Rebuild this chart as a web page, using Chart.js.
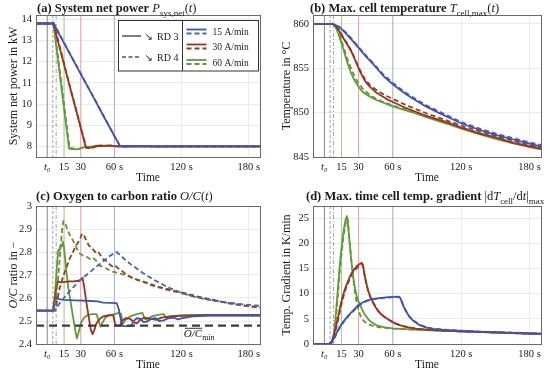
<!DOCTYPE html>
<html><head><meta charset="utf-8">
<script src="https://cdn.jsdelivr.net/npm/chart.js@4.4.1/dist/chart.umd.min.js"></script>
<style>
html,body{margin:0;padding:0;background:#fff;}
#wrap{position:relative;width:550px;height:375px;overflow:hidden;background:#fff;}
canvas{position:absolute;}
</style></head><body>
<div id="wrap">
<canvas id="ca" width="275" height="188" style="left:0;top:0"></canvas>
<canvas id="cb" width="275" height="188" style="left:275px;top:0"></canvas>
<canvas id="cc" width="275" height="187" style="left:0;top:188px"></canvas>
<canvas id="cd" width="275" height="187" style="left:275px;top:188px"></canvas>
</div>
<script>
// ---------------- data ----------------
const xTicks = [0, 15, 30, 60, 120, 180];
const xTickLabels = ['t\u2080', '15', '30', '60 s', '120 s', '180 s'];
const xRange = [-10, 190];
const markerGray = [0, 5, 8];          // t0, RD4 marker, RD3 marker
const rampEnds = [15, 30, 60];          // 60, 30, 15 A/min

// (a) system net power [t, kW]
const pwrBlueSolid = [[-10,13.8],[5.5,13.8],[10,13.36],[20,12.39],[30,11.41],[40,10.44],[50,9.46],[60,8.49],[65,8.0],[70,7.99],[80,8.01],[90,8.0],[100,7.99],[120,8.0],[150,8.0],[190,8.0]];
const pwrBlueDash  = [[-10,13.8],[6,13.8],[20,12.41],[40,10.46],[60,8.5],[65.5,7.98],[72,8.0],[85,8.02],[100,8.0],[130,7.99],[190,7.99]];
const pwrRedSolid  = [[-10,13.8],[5.5,13.8],[15,11.88],[25,9.87],[34.5,7.95],[37,7.92],[40,7.96],[45,8.03],[50,8.02],[55,8.05],[60,8.0],[70,8.01],[90,8.0],[190,8.0]];
const pwrRedDash   = [[-10,13.8],[6,13.8],[20,10.86],[35,7.93],[38,7.9],[42,7.97],[48,8.05],[52,8.0],[57,8.05],[63,8.0],[75,8.02],[100,8.0],[190,8.0]];
const pwrGreenSolid= [[-10,13.8],[5.5,13.8],[12.5,10.85],[19.5,7.9],[22,7.87],[26,7.86],[29,7.89],[32,7.95],[36,7.98],[42,8.0],[50,8.01],[60,8.02],[70,8.0],[190,8.0]];
const pwrGreenDash = [[-10,13.8],[6,13.8],[13,10.85],[20,7.93],[24,7.9],[28,7.87],[31,7.93],[36,7.96],[42,8.02],[48,8.04],[54,7.99],[62,8.03],[75,8.0],[190,8.0]];
const pwrTicks = [8,9,10,11,12,13,14];

// (b) max cell temperature [t, degC]
const tempBlueSolid = [[-10,860],[7,860],[10,859.85],[14,859.55],[19,858.9],[24,858.2],[30,857.3],[36,856.4],[44,855.3],[52,854.1],[60,853.2],[68,852.4],[76,851.7],[89,850.7],[100,850.0],[110,849.4],[120,848.8],[135,848.1],[150,847.5],[165,847.0],[180,846.5],[190,846.2]];
const tempBlueDash  = [[-10,860],[7.5,860],[10,859.88],[14,859.6],[19,859.0],[24,858.3],[30,857.4],[36,856.5],[44,855.4],[52,854.25],[60,853.35],[68,852.55],[76,851.85],[89,850.85],[100,850.15],[110,849.55],[120,848.95],[135,848.25],[150,847.65],[165,847.15],[180,846.65],[190,846.35]];
const tempRedSolid  = [[-10,860],[7,860],[10,859.75],[13,859.2],[16,858.5],[20,857.7],[24,856.8],[27,855.9],[30,855.0],[33,854.2],[36,853.5],[40,852.9],[45,852.3],[50,851.9],[55,851.5],[60,851.2],[70,850.6],[80,850.1],[90,849.6],[100,849.2],[110,848.8],[120,848.3],[135,847.7],[150,847.2],[165,846.6],[180,846.2],[190,845.95]];
const tempRedDash   = [[-10,860],[7.5,860],[10,859.8],[13,859.3],[16,858.6],[20,857.8],[24,856.9],[27,856.0],[30,855.1],[33,854.3],[36,853.7],[40,853.1],[45,852.6],[50,852.2],[55,851.85],[60,851.55],[70,850.95],[80,850.4],[90,849.9],[100,849.45],[110,849.0],[120,848.55],[135,847.95],[150,847.4],[165,846.85],[180,846.35],[190,846.1]];
const tempGreenSolid= [[-10,860],[7,860],[9,859.8],[11,859.3],[13,858.6],[15,857.8],[17,857.0],[19,856.1],[21,855.3],[23,854.6],[25,854.0],[27,853.5],[30,852.9],[33,852.4],[36,852.1],[40,851.8],[45,851.45],[50,851.2],[60,850.7],[70,850.3],[80,849.9],[90,849.45],[100,849.05],[110,848.65],[120,848.2],[135,847.6],[150,847.05],[165,846.55],[180,846.1],[190,845.85]];
const tempGreenDash = [[-10,860],[7.5,860],[10,859.7],[12,859.2],[14,858.5],[16,857.7],[18,856.9],[20,856.1],[22,855.4],[24,854.8],[26,854.2],[28,853.7],[30,853.3],[33,852.8],[36,852.4],[40,852.0],[45,851.6],[50,851.3],[60,850.8],[70,850.4],[80,850.0],[90,849.6],[100,849.2],[110,848.8],[120,848.35],[135,847.75],[150,847.2],[165,846.7],[180,846.25],[190,846.0]];
const tempTicks = [845,850,855,860];

// (c) O/C ratio [t, -]
const ocBlueSolid = [[-10,2.545],[5,2.545],[7,2.58],[8.5,2.605],[10,2.595],[15,2.592],[25,2.59],[35,2.588],[45,2.585],[50,2.58],[62,2.578],[64,2.55],[66,2.5],[67.5,2.478],[75,2.478],[77,2.5],[80,2.512],[83,2.51],[86,2.495],[89,2.497],[93,2.51],[97,2.512],[100,2.5],[104,2.503],[108,2.512],[113,2.515],[117,2.507],[121,2.513],[130,2.52],[150,2.525],[190,2.524]];
const ocBlueDash  = [[-10,2.545],[7,2.545],[8,2.55],[10,2.57],[15,2.6],[20,2.63],[25,2.655],[30,2.68],[35,2.70],[40,2.72],[45,2.74],[50,2.76],[55,2.78],[60,2.795],[62,2.80],[65,2.787],[70,2.765],[75,2.745],[80,2.728],[85,2.71],[90,2.695],[95,2.68],[100,2.667],[105,2.654],[110,2.642],[115,2.632],[120,2.622],[130,2.607],[140,2.596],[150,2.588],[160,2.58],[170,2.575],[180,2.57],[190,2.566]];
const ocRedSolid  = [[-10,2.545],[5,2.545],[6.5,2.58],[8,2.64],[9.5,2.672],[12,2.668],[16,2.67],[20,2.672],[24,2.672],[28,2.675],[30,2.68],[31.5,2.688],[33,2.65],[35,2.58],[37,2.52],[39,2.46],[40.5,2.443],[42,2.46],[44,2.49],[47,2.51],[50,2.52],[55,2.525],[59,2.525],[60.5,2.49],[61.5,2.48],[65,2.48],[66.5,2.5],[70,2.512],[74,2.51],[77,2.495],[80,2.49],[83,2.505],[87,2.515],[92,2.51],[97,2.505],[102,2.515],[110,2.52],[120,2.522],[140,2.525],[190,2.525]];
const ocRedDash   = [[-10,2.545],[7,2.545],[9,2.59],[11,2.64],[14,2.69],[17,2.73],[20,2.77],[23,2.80],[26,2.83],[28,2.845],[30,2.865],[31,2.88],[33,2.87],[35,2.85],[37,2.83],[40,2.815],[43,2.80],[45,2.805],[47,2.79],[50,2.77],[53,2.76],[56,2.745],[59,2.735],[61,2.74],[63,2.73],[66,2.72],[70,2.705],[75,2.69],[80,2.68],[85,2.672],[90,2.665],[95,2.656],[100,2.648],[110,2.635],[120,2.625],[130,2.612],[140,2.60],[150,2.59],[160,2.58],[170,2.572],[180,2.565],[190,2.56]];
const ocGreenSolid= [[-10,2.545],[5,2.545],[7,2.62],[9,2.76],[10,2.81],[11,2.805],[12,2.83],[13,2.825],[14,2.845],[15,2.82],[17,2.72],[19,2.64],[21,2.58],[23,2.52],[25,2.46],[26.5,2.425],[28,2.45],[30,2.49],[33,2.515],[36,2.525],[40,2.53],[44,2.53],[46,2.50],[47.5,2.475],[49,2.49],[52,2.515],[56,2.525],[60,2.53],[64,2.535],[66,2.53],[67,2.50],[68,2.49],[70,2.505],[74,2.52],[80,2.53],[85,2.535],[87,2.51],[89,2.505],[93,2.52],[100,2.528],[104,2.53],[106,2.515],[110,2.52],[120,2.525],[140,2.527],[190,2.525]];
const ocGreenDash = [[-10,2.545],[6,2.545],[8,2.6],[10,2.7],[12,2.82],[13.5,2.91],[14.5,2.935],[16,2.925],[18,2.9],[20,2.875],[22,2.86],[24,2.84],[26,2.82],[28,2.80],[30,2.79],[32,2.785],[35,2.78],[38,2.77],[41,2.775],[44,2.76],[47,2.74],[50,2.735],[54,2.725],[58,2.715],[62,2.71],[66,2.705],[70,2.70],[75,2.69],[80,2.68],[85,2.672],[90,2.66],[95,2.652],[100,2.645],[110,2.632],[120,2.62],[130,2.608],[140,2.597],[150,2.588],[160,2.578],[170,2.57],[180,2.563],[190,2.558]];
const ocMin = 2.48;
const ocTicks = [2.4,2.5,2.6,2.7,2.8,2.9,3.0];

// (d) max time cell temperature gradient [t, K/min]
const gradBlueSolid = [[-10,0],[4.5,0],[6,0.3],[8,1.0],[10,1.9],[12,2.8],[14,3.6],[16.5,4.4],[19,5.1],[22,5.9],[26.6,7.0],[30,7.7],[33,8.2],[37,8.6],[42,8.9],[48,9.1],[54,9.25],[60,9.35],[65,9.4],[66.5,9.2],[68.4,8.0],[71,6.7],[74.3,5.5],[78,4.6],[83,3.8],[89,3.3],[95,3.0],[105,2.8],[120,2.6],[140,2.4],[160,2.25],[180,2.1],[190,2.05]];
const gradBlueDash  = [[-10,0],[5,0],[6.5,0.3],[8.5,1.0],[10.5,1.9],[12.5,2.8],[14.5,3.6],[17,4.4],[19.5,5.1],[22.5,5.9],[27,6.9],[30,7.5],[33,8.05],[37,8.5],[42,8.85],[48,9.05],[54,9.2],[60,9.3],[65.3,9.35],[67,9.1],[69,7.8],[72,6.4],[75,5.3],[78,4.7],[83,3.9],[89,3.35],[95,3.05],[105,2.85],[120,2.65],[140,2.45],[160,2.3],[180,2.15],[190,2.1]];
const gradRedSolid  = [[-10,0],[4,0],[6,0.3],[7,0.8],[8,1.5],[10,3.3],[12,5.3],[14,7.6],[16,9.4],[18,10.9],[20,12.1],[23,13.7],[26,14.8],[29,15.6],[31,15.9],[32.8,16.1],[33.8,15.7],[35,14.0],[36.5,12.3],[38.5,10.5],[41,9.0],[44,7.6],[48,6.3],[53,5.3],[58,4.6],[63,4.0],[68,3.6],[74,3.3],[80,3.05],[90,2.85],[105,2.65],[120,2.5],[140,2.35],[160,2.2],[180,2.05],[190,2.0]];
const gradRedDash   = [[-10,0],[4.5,0],[6.5,0.3],[7.5,0.8],[8.5,1.5],[10.5,3.3],[12.5,5.3],[14.5,7.5],[16.5,9.3],[18.5,10.8],[20.5,12.0],[23.5,13.5],[26.5,14.6],[29.5,15.3],[31.5,15.6],[33.2,15.8],[34.2,15.2],[35.5,13.4],[37,11.8],[39,10.0],[41.5,8.7],[44,7.8],[47,6.6],[52,5.5],[57,4.7],[62,4.1],[68,3.6],[74,3.3],[80,3.05],[90,2.85],[105,2.65],[120,2.5],[140,2.35],[160,2.2],[180,2.05],[190,2.0]];
const gradGreenSolid= [[-10,0],[4,0],[6,0.4],[7,1.0],[8,1.8],[9,3.3],[10,5.8],[11,8.6],[12,11.5],[13,14.4],[14,16.9],[15,19],[16,21],[17,22.7],[18,24],[19,25.1],[19.7,25.4],[20.5,24.2],[22,20.3],[23.5,16.8],[25,13.7],[26.5,11.5],[28,9.8],[30,8.4],[32.6,7.1],[35,6.0],[38.5,4.9],[42,4.2],[46,3.7],[52,3.35],[60,3.1],[70,2.95],[80,2.85],[90,2.75],[105,2.6],[120,2.5],[140,2.35],[160,2.2],[180,2.05],[190,2.0]];
const gradGreenDash = [[-10,0],[4.5,0],[6.5,0.4],[7.5,1.0],[8.5,1.9],[9.5,3.5],[10.5,6],[11.5,8.8],[12.5,11.6],[13.5,14.3],[14.5,16.8],[15.5,18.9],[16.5,20.8],[17.5,22.4],[18.5,23.7],[19.5,24.7],[20.2,25.0],[21,23.5],[22.5,19.5],[24,15.8],[25.5,12.5],[27,10.0],[28.5,8.0],[30,6.6],[32,5.4],[34,4.7],[37,4.1],[41,3.7],[46,3.4],[52,3.2],[60,3.05],[70,2.95],[80,2.85],[90,2.75],[105,2.6],[120,2.5],[140,2.35],[160,2.2],[180,2.05],[190,2.0]];
const gradTicks = [0,5,10,15,20,25];

// ---------------- styling ----------------
const SERIF = '"Liberation Serif","DejaVu Serif",serif';
const C = {
  blue:'#3f52b8', blueD:'#4b5fc8',
  red:'#a3301c', redD:'#8e4220',
  green:'#5c9e3a', greenD:'#748c32'
};
const TXT = '#1a1a1a';
const DASH = [5, 3];

function ds(pairs, color, dashed, w) {
  return {data: pairs.map(p => ({x:p[0], y:p[1]})), borderColor: color,
    borderWidth: w || 1.8, borderDash: dashed ? DASH : [], pointRadius: 0,
    fill: false, tension: 0, borderJoinStyle:'round'};
}

function drawRich(ctx, segs, x, y, o) {
  const base = o.size;
  let w = 0;
  const items = segs.map(s => {
    const size = s.sub ? base * 0.72 : base;
    const font = (s.i ? 'italic ' : '') + (s.b ? 'bold ' : '') + size + 'px ' + (s.fam || SERIF);
    ctx.font = font;
    const mw = ctx.measureText(s.t).width;
    const it = {t: s.t, font, x: w, dy: s.sub ? base * 0.3 : 0, w: mw, over: s.over};
    w += mw;
    return it;
  });
  ctx.save();
  ctx.translate(x, y);
  if (o.rot) ctx.rotate(-Math.PI / 2);
  const x0 = o.align === 'center' ? -w / 2 : 0;
  ctx.fillStyle = o.color || TXT;
  ctx.textBaseline = 'alphabetic';
  ctx.textAlign = 'left';
  for (const it of items) {
    ctx.font = it.font;
    ctx.fillText(it.t, x0 + it.x, it.dy);
    if (it.over) ctx.fillRect(x0 + it.x + 1, -base * 0.8, it.w - 1, 0.9);
  }
  ctx.restore();
}

function vline(ctx, ca, x, color, dash, w) {
  ctx.save();
  ctx.strokeStyle = color; ctx.lineWidth = w || 1; ctx.setLineDash(dash || []);
  ctx.beginPath(); ctx.moveTo(x, ca.top); ctx.lineTo(x, ca.bottom); ctx.stroke();
  ctx.restore();
}

function makeChart(id, p) {
  const ctx = document.getElementById(id).getContext('2d');
  const deco = {
    id: 'deco' + id,
    beforeDatasetsDraw(chart) {
      const c = chart.ctx, ca = chart.chartArea, xs = chart.scales.x;
      vline(c, ca, xs.getPixelForValue(markerGray[0]), '#8a8a8a', [], 1);
      vline(c, ca, xs.getPixelForValue(markerGray[1]), '#a5a5a5', [3,2], 1);
      vline(c, ca, xs.getPixelForValue(markerGray[2]), '#a5a5a5', [4,2,1,2], 1);
      vline(c, ca, xs.getPixelForValue(rampEnds[0]), '#9fd48a', [], 1);
      vline(c, ca, xs.getPixelForValue(rampEnds[1]), '#e6a0a0', [], 1);
      vline(c, ca, xs.getPixelForValue(rampEnds[2]), '#9fafe0', [], 1);
    },
    afterDatasetsDraw(chart) {
      const c = chart.ctx, ca = chart.chartArea;
      c.save();
      c.strokeStyle = '#6a6a6a'; c.lineWidth = 1;
      c.strokeRect(Math.round(ca.left) + 0.5, Math.round(ca.top) + 0.5, Math.round(ca.right - ca.left), Math.round(ca.bottom - ca.top));
      c.restore();
      drawRich(c, p.title, p.titleX, p.titleY, {size: 12.5});
      drawRich(c, p.ylabel, p.ylabelX, (ca.top + ca.bottom) / 2, {size: 12, rot: true, align: 'center'});
      if (p.extra) p.extra(chart);
    }
  };
  return new Chart(ctx, {
    type: 'line',
    data: {datasets: p.datasets},
    options: {
      responsive: false, animation: false, events: [],
      layout: {padding: {left: 0, top: p.padTop, right: p.padRight, bottom: 0}},
      plugins: {legend: {display: false}, tooltip: {enabled: false}},
      scales: {
        x: {type: 'linear', min: xRange[0], max: xRange[1],
          afterBuildTicks: s => { s.ticks = xTicks.map(v => ({value: v})); },
          afterFit: s => { s.height = p.xH; },
          ticks: {autoSkip: false, maxRotation: 0, padding: 4, color: TXT,
            font: c => ({family: SERIF, size: 10.5, style: (c.tick && c.tick.value === 0) ? 'italic' : 'normal'}),
            callback: (v, i) => xTickLabels[i]},
          grid: {color: '#ebebeb', drawTicks: false},
          border: {display: false},
          title: {display: true, text: 'Time', color: TXT, font: {family: SERIF, size: 11.5}, padding: {top: 0, bottom: 3}}
        },
        y: {type: 'linear', min: p.ymin, max: p.ymax,
          afterBuildTicks: s => { s.ticks = p.yTicks.map(v => ({value: v})); },
          afterFit: s => { s.width = p.yW; },
          ticks: {padding: 4, color: TXT, font: {family: SERIF, size: 10.5},
            callback: v => String(+v.toFixed(2))},
          grid: {color: '#ebebeb', drawTicks: false},
          border: {display: false}
        }
      }
    },
    plugins: [deco]
  });
}

// (a)
makeChart('ca', {
  padTop: 15, padRight: 15, xH: 31, yW: 36, ymin: 7.5, ymax: 14.2, yTicks: pwrTicks,
  titleX: 37, titleY: 12, ylabelX: 17,
  title: [{t:'(a) System net power ', b:1}, {t:'P', i:1}, {t:'sys,net', sub:1}, {t:'('}, {t:'t', i:1}, {t:')'}],
  ylabel: [{t:'System net power in kW'}],
  datasets: [ds(pwrBlueSolid, C.blue), ds(pwrRedSolid, C.red), ds(pwrGreenSolid, C.green),
             ds(pwrBlueDash, C.blueD, true), ds(pwrRedDash, C.redD, true), ds(pwrGreenDash, C.greenD, true)],
  extra(chart) {
    const c = chart.ctx;
    c.save();
    c.fillStyle = '#fff'; c.fillRect(118.5, 20.5, 140, 50.5);
    c.strokeStyle = '#333'; c.lineWidth = 1; c.strokeRect(118.5, 20.5, 140, 50.5);
    c.beginPath(); c.moveTo(182.5, 20.5); c.lineTo(182.5, 71); c.stroke();
    c.strokeStyle = '#555'; c.lineWidth = 1.5;
    c.beginPath(); c.moveTo(122, 36); c.lineTo(141, 36); c.stroke();
    c.setLineDash([4,2.5]); c.beginPath(); c.moveTo(122, 57); c.lineTo(141, 57); c.stroke();
    c.restore();
    drawRich(c, [{t:'\u2198', fam:'"DejaVu Sans"'}], 144.5, 40, {size: 10});
    drawRich(c, [{t:'RD 3'}], 157, 39.5, {size: 10});
    drawRich(c, [{t:'\u2198', fam:'"DejaVu Sans"'}], 144.5, 61, {size: 10});
    drawRich(c, [{t:'RD 4'}], 157, 60.5, {size: 10});
    const rows = [[31.5, C.blue, C.blueD, '15 A/min'], [46.5, C.red, C.redD, '30 A/min'], [62, C.green, C.greenD, '60 A/min']];
    for (const r of rows) {
      c.save(); c.lineWidth = 1.8;
      c.strokeStyle = r[1]; c.beginPath(); c.moveTo(186.5, r[0] - 2); c.lineTo(206.5, r[0] - 2); c.stroke();
      c.strokeStyle = r[2]; c.setLineDash(DASH); c.beginPath(); c.moveTo(186.5, r[0] + 2); c.lineTo(206.5, r[0] + 2); c.stroke();
      c.restore();
      drawRich(c, [{t: r[3]}], 212.5, r[0] + 3.5, {size: 9.5});
    }
  }
});

// (b)
makeChart('cb', {
  padTop: 15, padRight: 9, xH: 31, yW: 38, ymin: 845, ymax: 861, yTicks: tempTicks,
  titleX: 35, titleY: 12, ylabelX: 15,
  title: [{t:'(b) Max. cell temperature ', b:1}, {t:'T', i:1}, {t:'cell,max', sub:1}, {t:'('}, {t:'t', i:1}, {t:')'}],
  ylabel: [{t:'Temperature in \u00B0C'}],
  datasets: [ds(tempBlueSolid, C.blue), ds(tempRedSolid, C.red), ds(tempGreenSolid, C.green),
             ds(tempBlueDash, C.blueD, true), ds(tempRedDash, C.redD, true), ds(tempGreenDash, C.greenD, true)]
});

// (c)
makeChart('cc', {
  padTop: 18, padRight: 15, xH: 31, yW: 36, ymin: 2.4, ymax: 3.0, yTicks: ocTicks,
  titleX: 36, titleY: 12, ylabelX: 17,
  title: [{t:'(c) Oxygen to carbon ratio ', b:1}, {t:'O/C', i:1}, {t:'('}, {t:'t', i:1}, {t:')'}],
  ylabel: [{t:'O/C', i:1}, {t:' ratio in \u2212'}],
  datasets: [
    {data: [{x:xRange[0], y:ocMin}, {x:xRange[1], y:ocMin}], borderColor:'#3c3c3c', borderWidth:2.2, borderDash:[8,5], pointRadius:0, fill:false},
    ds(ocBlueDash, C.blueD, true), ds(ocRedDash, C.redD, true), ds(ocGreenDash, C.greenD, true),
    ds(ocBlueSolid, C.blue), ds(ocRedSolid, C.red), ds(ocGreenSolid, C.green)],
  extra(chart) {
    const xs = chart.scales.x, ys = chart.scales.y;
    drawRich(chart.ctx, [{t:'O/C', i:1, over:1}, {t:'min', sub:1}], xs.getPixelForValue(122), ys.getPixelForValue(ocMin) + 11, {size: 11});
  }
});

// (d)
makeChart('cd', {
  padTop: 18, padRight: 9, xH: 31, yW: 38, ymin: 0, ymax: 27.4, yTicks: gradTicks,
  titleX: 31, titleY: 12, ylabelX: 15,
  title: [{t:'(d) Max. time cell temp. gradient ', b:1}, {t:'|d'}, {t:'T', i:1}, {t:'cell', sub:1}, {t:'/d'}, {t:'t', i:1}, {t:'|'}, {t:'max', sub:1}],
  ylabel: [{t:'Temp. Gradient in K/min'}],
  datasets: [ds(gradBlueSolid, C.blue), ds(gradRedSolid, C.red), ds(gradGreenSolid, C.green),
             ds(gradBlueDash, C.blueD, true), ds(gradRedDash, C.redD, true), ds(gradGreenDash, C.greenD, true)]
});
</script>
</body></html>
